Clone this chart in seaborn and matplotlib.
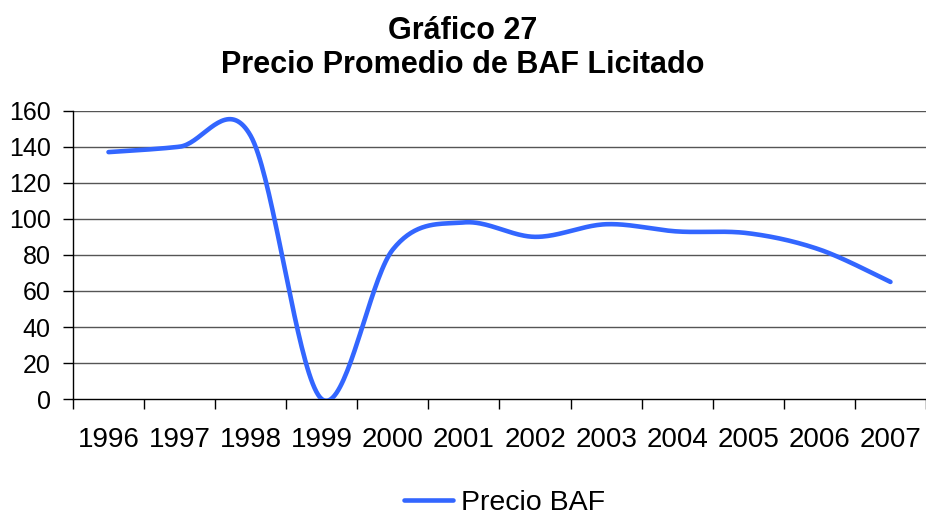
import numpy as np
import pandas as pd
import seaborn as sns
import matplotlib.pyplot as plt
from matplotlib.ticker import FixedLocator

# Values.
years = ['1996', '1997', '1998', '1999', '2000', '2001',
         '2002', '2003', '2004', '2005', '2006', '2007']
precio_baf = [137, 140, 146, 0, 83, 98, 90, 97, 93, 92, 83, 65]
y_ticks = [0, 20, 40, 60, 80, 100, 120, 140, 160]


def smooth_curve(x, y, steps=40):
    # Excel-like smoothed line: Catmull-Rom Bezier through every point.
    x = np.asarray(x, float)
    y = np.asarray(y, float)
    px = np.concatenate([[x[0]], x, [x[-1]]])
    py = np.concatenate([[y[0]], y, [y[-1]]])
    t = np.linspace(0, 1, steps)
    xs, ys = [], []
    for i in range(1, len(px) - 2):
        p0, p1, p2, p3 = (np.array([px[k], py[k]]) for k in (i - 1, i, i + 1, i + 2))
        c1 = p1 + (p2 - p0) / 6.0
        c2 = p2 - (p3 - p1) / 6.0
        b = ((1 - t) ** 3)[:, None] * p1 + (3 * (1 - t) ** 2 * t)[:, None] * c1 \
            + (3 * (1 - t) * t ** 2)[:, None] * c2 + (t ** 3)[:, None] * p2
        xs.extend(b[:, 0])
        ys.extend(b[:, 1])
    return np.array(xs), np.array(ys)


pos = np.arange(len(years))
sx, sy = smooth_curve(pos, precio_baf)
df = pd.DataFrame({'pos': sx, 'valor': sy, 'serie': 'Precio BAF'})

sns.set_style("white")
plt.rcParams['font.family'] = ['Liberation Sans', 'DejaVu Sans']
plt.rcParams['text.color'] = 'black'
plt.rcParams['xtick.labelcolor'] = 'black'
plt.rcParams['ytick.labelcolor'] = 'black'

fig = plt.figure(figsize=(9.26, 5.17), dpi=100)
ax = fig.add_axes([0.0788, 0.228, 0.9212, 0.558])

for v in y_ticks[1:]:
    ax.axhline(v, color='#555555', lw=1.0, zorder=1)

sns.lineplot(data=df, x='pos', y='valor', hue='serie', sort=False,
             palette=['#3366FF'], lw=3.3, ax=ax, zorder=3, legend=False)

ax.set_xlim(-0.5, len(years) - 0.5)
ax.set_ylim(0, 160)
ax.set_yticks(y_ticks)
ax.tick_params(axis='y', labelsize=18, length=7, width=1, color='black',
               direction='out', pad=9, left=True)

ax.set_xticks(pos)
ax.set_xticklabels(years)
ax.xaxis.set_minor_locator(FixedLocator(np.arange(-0.5, len(years), 1.0)))
ax.tick_params(axis='x', which='major', length=0, labelsize=20, pad=20)
ax.tick_params(axis='x', which='minor', length=7, width=1, color='black',
               direction='out', bottom=True)

for side in ['top', 'right']:
    ax.spines[side].set_visible(False)
for side in ['left', 'bottom']:
    ax.spines[side].set_color('black')
    ax.spines[side].set_linewidth(1.0)

ax.set_xlabel('')
ax.set_ylabel('')

fig.text(0.5, 0.907, 'Gráfico 27\nPrecio Promedio de BAF Licitado',
         ha='center', va='center', fontsize=22, fontweight='bold',
         linespacing=1.15)

handle = plt.Line2D([], [], color='#3366FF', lw=3.3)
fig.legend([handle], ['Precio BAF'], loc='lower center',
           bbox_to_anchor=(0.545, -0.048), frameon=False, fontsize=20.5,
           handlelength=1.7, handletextpad=0.3)

fig.savefig('out.png', dpi=100)
